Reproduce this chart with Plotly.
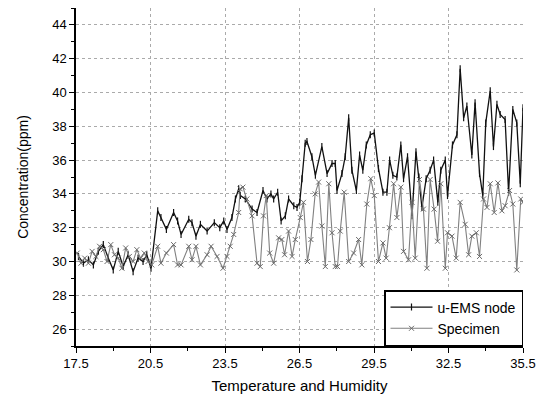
import plotly.graph_objects as go

# u-EMS node series (x, y)
ems_x = [17.6, 17.8, 18.0, 18.2, 18.4, 18.6, 18.8, 19.0, 19.2, 19.4, 19.6, 19.8, 20.0, 20.2, 20.35, 20.52,
         20.79, 20.92, 21.14, 21.43, 21.59, 21.73, 22.04, 22.17, 22.33, 22.51, 22.78, 23.07, 23.29, 23.45,
         23.58, 23.78, 23.92, 24.05, 24.12, 24.32, 24.59, 24.79, 25.03, 25.19, 25.35, 25.46, 25.62, 25.76,
         25.93, 26.06, 26.27, 26.40, 26.51, 26.60, 26.73, 26.80, 27.0, 27.14, 27.4, 27.61, 27.81, 27.94,
         28.01, 28.21, 28.34, 28.48, 28.61, 28.79, 28.92, 29.05, 29.19, 29.35, 29.51, 29.68, 29.86, 30.02,
         30.13, 30.26, 30.42, 30.58, 30.69, 30.85, 31.03, 31.19, 31.31, 31.43, 31.6, 31.76, 31.9, 32.07,
         32.19, 32.37, 32.46, 32.66, 32.84, 32.97, 33.11, 33.24, 33.44, 33.57, 33.75, 33.88, 34.0, 34.18,
         34.31, 34.45, 34.58, 34.78, 34.92, 35.09, 35.25, 35.39, 35.5]
ems_y = [30.3, 29.9, 30.1, 29.8, 30.6, 31.0, 30.2, 29.5, 30.6, 29.7, 30.4, 29.4, 30.2, 30.0, 30.4, 29.6,
         33.0, 32.6, 31.9, 32.9, 32.4, 31.6, 32.5, 32.3, 31.5, 32.2, 31.8, 32.3, 32.0, 32.4,
         31.9, 32.6, 33.7, 34.3, 33.9, 33.7, 33.1, 32.9, 34.2, 33.7, 34.0, 33.7, 34.1, 32.4,
         32.7, 33.7, 33.3, 33.2, 33.5, 34.9, 37.0, 37.1, 36.2, 35.1, 36.8, 35.2, 35.8, 35.8,
         34.2, 35.2, 36.2, 38.5, 35.4, 34.2, 36.3, 35.4, 36.9, 37.5, 37.6, 35.5, 34.1, 34.1,
         36.0, 35.1, 35.0, 36.9, 34.9, 36.2, 32.7, 36.5, 35.0, 33.2, 34.9, 35.4, 36.0, 33.5,
         35.4, 36.0, 33.9, 36.9, 37.5, 41.4, 38.5, 39.2, 36.3, 39.4, 35.2, 33.9, 38.2, 40.1,
         36.8, 39.3, 38.7, 38.4, 34.1, 39.0, 38.2, 34.6, 39.1]

# Specimen series (x, y)
spec_x = [17.55, 17.7, 17.85, 18.0, 18.15, 18.3, 18.45, 18.6, 18.75, 18.9, 19.05, 19.2, 19.35, 19.5,
          19.65, 19.8, 19.95, 20.1, 20.25, 20.4, 20.55, 20.79, 20.92, 21.14, 21.43, 21.59, 21.73, 22.04,
          22.17, 22.33, 22.51, 22.78, 22.94, 23.18, 23.42, 23.58, 23.71, 23.85, 24.05, 24.11, 24.22,
          24.38, 24.59, 24.79, 24.92, 25.05, 25.16, 25.3, 25.46, 25.66, 25.79, 25.9, 26.06, 26.2, 26.33,
          26.53, 26.66, 26.82, 26.96, 27.13, 27.27, 27.4, 27.54, 27.68, 27.81, 27.94, 28.03, 28.14, 28.3,
          28.48, 28.68, 28.88, 29.01, 29.21, 29.37, 29.51, 29.68, 29.86, 29.99, 30.12, 30.29, 30.42,
          30.58, 30.69, 30.89, 31.03, 31.16, 31.33, 31.49, 31.63, 31.76, 31.92, 32.06, 32.19, 32.37,
          32.46, 32.64, 32.81, 32.97, 33.17, 33.31, 33.44, 33.62, 33.75, 33.91, 34.05, 34.18, 34.34,
          34.49, 34.65, 34.78, 34.96, 35.09, 35.25, 35.41, 35.5]
spec_y = [30.5, 29.9, 30.2, 29.9, 30.6, 30.3, 30.9, 30.7, 30.0, 31.0, 30.4, 30.2, 29.6, 30.8,
          30.3, 30.0, 30.7, 30.2, 30.5, 30.0, 29.8, 30.9, 29.9, 30.5, 31.0, 29.8, 29.8, 30.9,
          30.1, 30.9, 29.8, 30.4, 30.9, 30.3, 29.6, 30.3, 30.9, 31.6, 32.9, 34.3, 34.4,
          33.7, 32.7, 29.9, 29.7, 32.7, 33.9, 30.5, 29.9, 31.4, 31.3, 30.4, 31.8, 30.3, 31.3,
          32.6, 33.5, 30.0, 31.3, 34.0, 34.7, 32.1, 29.7, 34.6, 31.7, 29.7, 29.7, 31.8, 34.1,
          30.0, 30.5, 31.3, 29.8, 33.4, 34.9, 33.9, 30.0, 31.1, 30.2, 32.0, 34.6, 32.6,
          34.4, 30.6, 30.1, 33.5, 30.2, 34.85, 33.1, 29.6, 34.85, 33.1, 31.2, 34.6, 29.6,
          31.7, 31.5, 30.2, 33.5, 32.2, 30.4, 31.5, 31.7, 30.3, 33.7, 33.2, 34.6, 32.9,
          34.65, 33.0, 33.3, 34.2, 33.4, 29.5, 33.7, 33.5]

x_tickvals = [17.5, 20.5, 23.5, 26.5, 29.5, 32.5, 35.5]
y_tickvals = [26, 28, 30, 32, 34, 36, 38, 40, 42, 44]

font = "Liberation Sans, Arial, sans-serif"

fig = go.Figure()
fig.add_trace(go.Scatter(
    x=ems_x, y=ems_y, mode="lines+markers", name="u-EMS node",
    line=dict(color="#111111", width=1.3),
    marker=dict(symbol="line-ns-open", size=5, color="#111111", line=dict(width=1.2, color="#111111")),
))
fig.add_trace(go.Scatter(
    x=spec_x, y=spec_y, mode="lines+markers", name="Specimen",
    line=dict(color="#808080", width=1.1),
    marker=dict(symbol="x-thin-open", size=5, color="#6a6a6a", line=dict(width=1, color="#6a6a6a")),
))

fig.update_layout(
    width=541, height=394,
    margin=dict(l=68, r=26, t=0, b=56),
    paper_bgcolor="white", plot_bgcolor="white",
    font=dict(family=font, size=13, color="black"),
    showlegend=True,
    legend=dict(
        x=1.0, y=0.0, xanchor="right", yanchor="bottom",
        bordercolor="black", borderwidth=1.5, bgcolor="white",
        font=dict(family=font, size=14, color="black"),
        tracegroupgap=0, itemwidth=42,
    ),
)
fig.update_xaxes(
    range=[17.5, 35.5], tickvals=x_tickvals, ticktext=[str(v) for v in x_tickvals],
    showline=True, linecolor="black", linewidth=1.5, mirror=False,
    ticks="outside", ticklen=5, tickwidth=1.3, tickcolor="black",
    minor=dict(dtick=1.5, tick0=17.5, ticks="outside", ticklen=3, tickwidth=1, tickcolor="black", showgrid=False),
    showgrid=True, gridcolor="#aaaaaa", griddash="dot", gridwidth=1,
    zeroline=False,
    title=dict(text="Temperature and Humidity", font=dict(family=font, size=15), standoff=10),
    tickfont=dict(family=font, size=13),
)
fig.update_yaxes(
    range=[25, 45], tickvals=y_tickvals,
    showline=True, linecolor="black", linewidth=1.5, mirror=False,
    ticks="outside", ticklen=5, tickwidth=1.3, tickcolor="black",
    minor=dict(dtick=1, tick0=25, ticks="outside", ticklen=3, tickwidth=1, tickcolor="black", showgrid=False),
    showgrid=True, gridcolor="#aaaaaa", griddash="dot", gridwidth=1,
    zeroline=False,
    title=dict(text="Concentration(ppm)", font=dict(family=font, size=14), standoff=20),
    tickfont=dict(family=font, size=13),
)

fig.write_html("out.html")
